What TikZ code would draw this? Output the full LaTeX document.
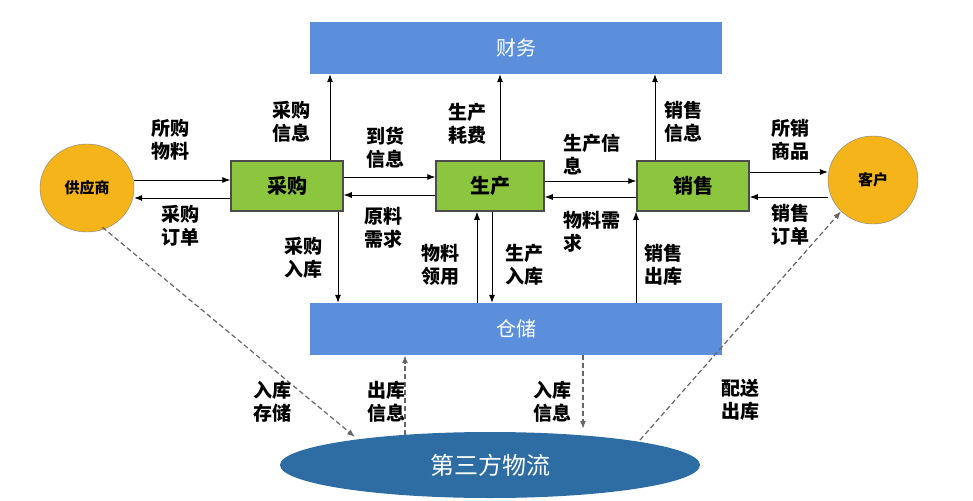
\documentclass[tikz,border=0pt]{standalone}
\usepackage{fontspec}
\setmainfont{Noto Sans CJK SC}
\usetikzlibrary{arrows.meta, positioning, shapes.geometric}
\definecolor{barblue}{HTML}{5B8FDB}
\definecolor{boxgreen}{HTML}{8CC63F}
\definecolor{circorange}{HTML}{F4B41A}
\definecolor{logblue}{HTML}{2E6DA4}
\tikzset{%
  bar/.style={rectangle, fill=barblue, text=white, minimum width=412pt, minimum height=52pt, font=\fontsize{20}{22}\selectfont},
  gblock/.style={rectangle, draw=black!70, line width=1.5pt, fill=boxgreen, minimum width=112pt, minimum height=50pt, font=\bfseries\fontsize{20}{22}\selectfont},
  party/.style={ellipse, draw=black!50, fill=circorange, minimum width=94pt, minimum height=88pt, font=\bfseries\fontsize{15}{17}\selectfont},
  lbl/.style={align=left, font=\bfseries\fontsize{19}{23}\selectfont},
  line/.style={draw, -{Latex[length=8pt,width=6pt]}, line width=0.8pt},
  dline/.style={line, dashed, draw=black!60, line width=1.2pt, dash pattern=on 5pt off 3pt}}

\begin{document}
\begin{tikzpicture}[x=1pt, y=-1pt]
    \useasboundingbox (0,0) rectangle (973,500);

    \node [bar] (finance) at (516, 48) {财务};
    \node [bar] (storage) at (516, 329) {仓储};
    \node [party] (supplier) at (87, 188) {供应商};
    \node [party, minimum width=90pt] (customer) at (873, 180) {客户};
    \node [gblock] (purchase) at (287, 186) {采购};
    \node [gblock, minimum width=108pt] (produce) at (490, 186) {生产};
    \node [gblock] (sales) at (693, 186) {销售};
    \node [ellipse, fill=logblue, text=white, minimum width=420pt, minimum height=66pt,
      font=\fontsize{24}{26}\selectfont] (logistics) at (490, 465) {第三方物流};

    % left side
    \path [line] (supplier.east |- 0,180) -- (purchase.west |- 0,180);
    \path [line] (purchase.west |- 0,198) -- (supplier.east |- 0,198);
    \path [line] (purchase.north -| 330,0) -- (finance.south -| 330,0);
    \path [line] (purchase.south -| 338,0) -- (storage.north -| 338,0);
    \path [line] (purchase.east |- 0,177) -- (produce.west |- 0,177);
    \path [line] (produce.west |- 0,195) -- (purchase.east |- 0,195);

    % middle
    \path [line] (produce.north -| 500,0) -- (finance.south -| 500,0);
    \path [line] (storage.north -| 477,0) -- (produce.south -| 477,0);
    \path [line] (produce.south -| 492,0) -- (storage.north -| 492,0);
    \path [line] (produce.east |- 0,181) -- (sales.west |- 0,181);
    \path [line] (sales.west |- 0,197) -- (produce.east |- 0,197);

    % right side
    \path [line] (sales.north -| 655,0) -- (finance.south -| 655,0);
    \path [line] (storage.north -| 636,0) -- (sales.south -| 636,0);
    \path [line] (sales.east |- 0,172) -- (customer.west |- 0,172);
    \path [line] (customer.west |- 0,197) -- (sales.east |- 0,197);

    % logistics
    \coordinate (inbound) at (355, 437);
    \coordinate (outbound) at (640, 440);
    \path [dline] (supplier.south east) ++(-18,8) -- (inbound);
    \path [dline] (logistics.north -| 405,0) ++(0,3) -- (storage.south -| 405,0);
    \path [dline] (storage.south -| 583,0) -- ([yshift=3pt]logistics.north -| 583,0);
    \path [dline] (outbound) -- (customer.south west);

    \node [lbl] (l1) at (170, 140) {所购\\物料};
    \node [lbl] (l2) at (180, 226) {采购\\订单};
    \node [lbl] (l3) at (291, 122) {采购\\信息};
    \node [lbl] (l4) at (385, 148) {到货\\信息};
    \node [lbl] (l5) at (383, 228) {原料\\需求};
    \node [lbl] (l6) at (303, 258) {采购\\入库};
    \node [lbl] (l7) at (467, 124) {生产\\耗费};
    \node [lbl] (l8) at (440, 265) {物料\\领用};
    \node [lbl] (l9) at (524, 265) {生产\\入库};
    \node [lbl, anchor=west] (l10) at (560, 155) {生产信\\息};
    \node [lbl, anchor=west] (l11) at (560, 232) {物料需\\求};
    \node [lbl] (l12) at (683, 122) {销售\\信息};
    \node [lbl] (l13) at (790, 140) {所销\\商品};
    \node [lbl] (l14) at (790, 225) {销售\\订单};
    \node [lbl] (l15) at (663, 265) {销售\\出库};
    \node [lbl] (l16) at (272, 402) {入库\\存储};
    \node [lbl] (l17) at (386, 402) {出库\\信息};
    \node [lbl] (l18) at (552, 402) {入库\\信息};
    \node [lbl] (l19) at (740, 400) {配送\\出库};
\end{tikzpicture}
\end{document}
